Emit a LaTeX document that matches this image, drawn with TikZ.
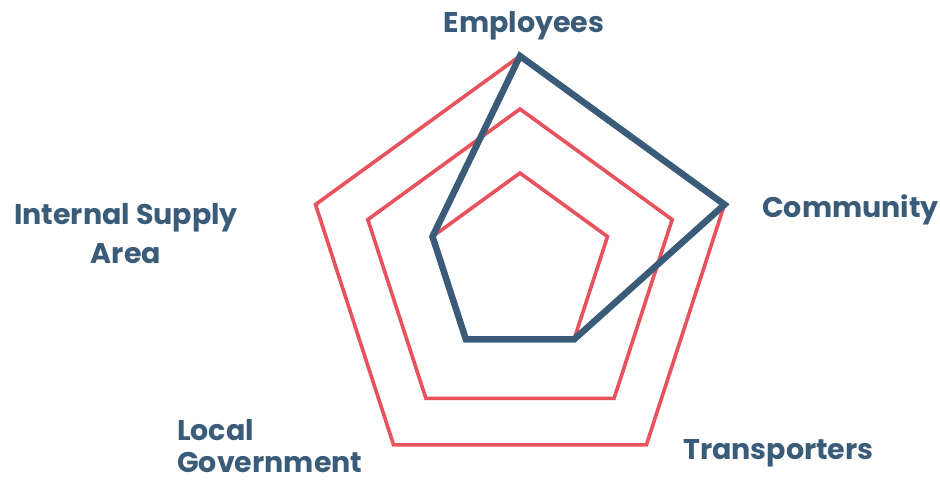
\documentclass[tikz,border=0pt]{standalone}
\usepackage{fontspec}
\setmainfont{Poppins}
\definecolor{ringred}{HTML}{E8525C}
\definecolor{inkblue}{HTML}{3A5C78}
\tikzset{
    ring/.style={ringred, line width=3.6pt, line join=miter},
    scoreline/.style={inkblue, line width=6.5pt, line join=miter},
    axislabel/.style={inkblue, font=\fontsize{28.5}{35}\selectfont\bfseries, inner sep=0pt}
}
\begin{document}
\begin{tikzpicture}[x=1pt, y=1pt]
        \useasboundingbox (-520, -215) rectangle (420, 268);
        \foreach \r/\dy/\n in {92/3/c, 160/-1/b, 215/-3/a} {
            \begin{scope}[yshift=\dy]
                \coordinate (\n1) at (90:\r);
                \coordinate (\n2) at (18:\r);
                \coordinate (\n3) at (-54:\r);
                \coordinate (\n4) at (-126:\r);
                \coordinate (\n5) at (162:\r);
            \end{scope}
            \draw[ring] (\n1) -- (\n2) -- (\n3) -- (\n4) -- (\n5) -- cycle;
        }
        \draw[scoreline] (a1) -- (a2) -- (c3) -- (c4) -- (c5) -- cycle;
        \node[axislabel, anchor=base] (employees) at (4, 236) {Employees};
        \node[axislabel, anchor=base west] (community) at (242, 51) {Community};
        \node[axislabel, anchor=base west] (transporters) at (163, -191) {Transporters};
        \node[axislabel, anchor=base west, align=left, text depth=0pt] (localgov) at (-343, -204) {Local\\[-3pt]Government};
        \node[axislabel, anchor=base, align=center] (supply) at (-394, 5) {Internal Supply\\[4pt]Area};
    \end{tikzpicture}
\end{document}
